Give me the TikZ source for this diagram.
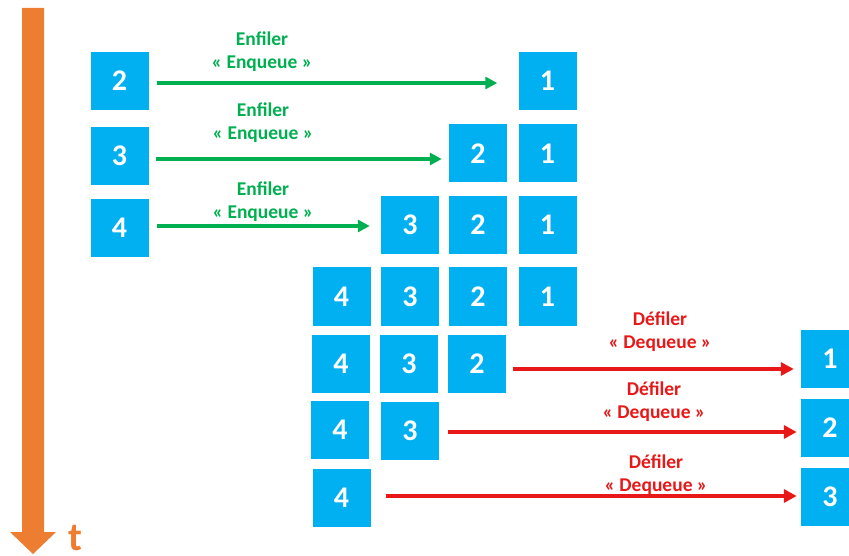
\documentclass[tikz,border=0pt]{standalone}
\usepackage{fontspec}
\setmainfont{Carlito}
\usetikzlibrary{arrows.meta}
\definecolor{boxblue}{HTML}{00B0F0}
\definecolor{enqgreen}{HTML}{00B050}
\definecolor{deqred}{HTML}{E81818}
\definecolor{timeorange}{HTML}{ED7D31}
\tikzset{
  cell/.style={fill=boxblue, minimum width=58pt, minimum height=58pt, inner sep=0pt,
    text=white, font=\bfseries\fontsize{30}{30}\selectfont},
  enq/.style={draw=enqgreen, line width=4pt,
    -{Triangle[length=12pt,width=12pt]}},
  deq/.style={draw=deqred, line width=4.5pt,
    -{Triangle[length=13pt,width=13pt]}},
  oplabel/.style={align=center, inner sep=0pt, font=\bfseries\fontsize{19.5}{23}\selectfont},
}
\begin{document}
\begin{tikzpicture}[x=1pt, y=-1pt]
\useasboundingbox (0,0) rectangle (849,556);
\clip (0,0) rectangle (849,556);

% time axis
\fill[timeorange] (22,8) -- (44,8) -- (44,532) -- (56,532) -- (33,554) -- (10,532) -- (22,532) -- cycle;
\node[anchor=base west, text=timeorange, font=\bfseries\fontsize{40}{40}\selectfont, inner sep=0pt] (t) at (68,550) {t};

% enqueue steps
\node[cell] (e1) at (119.5,81) {2};
\node[cell] (q11) at (547.5,81) {1};
\draw[enq] ([yshift=-2pt]e1.east) -- ([yshift=-2pt]e1.east -| q11.west) [shorten <=8pt, shorten >=21pt];
\node[oplabel, text=enqgreen] (l1) at (262,52) {Enfiler\\« Enqueue »};

\node[cell] (e2) at (119.5,156) {3};
\node[cell] (q22) at (478,153.5) {2};
\node[cell] (q21) at (547.5,153.5) {1};
\draw[enq] ([yshift=-3pt]e2.east) -- ([yshift=-3pt]e2.east -| q22.west) [shorten <=7pt, shorten >=7pt];
\node[oplabel, text=enqgreen] (l2) at (263,122.5) {Enfiler\\« Enqueue »};

\node[cell] (e3) at (119.5,228) {4};
\node[cell] (q33) at (410,225) {3};
\node[cell] (q32) at (478,225) {2};
\node[cell] (q31) at (547.5,225) {1};
\draw[enq] ([yshift=2pt]e3.east) -- ([yshift=2pt]e3.east -| q33.west) [shorten <=8pt, shorten >=11pt];
\node[oplabel, text=enqgreen] (l3) at (263,201.5) {Enfiler\\« Enqueue »};

% full queue
\node[cell] (f4) at (341.5,296.5) {4};
\node[cell] (f3) at (410,296.5) {3};
\node[cell] (f2) at (478,296.5) {2};
\node[cell] (f1) at (547.5,296.5) {1};

% dequeue steps
\node[cell] (d14) at (341,364) {4};
\node[cell] (d13) at (409,364) {3};
\node[cell] (d12) at (477,364) {2};
\node[cell] (o1) at (830,359) {1};
\draw[deq] ([yshift=-5pt]d12.east) -- ([yshift=-5pt]d12.east -| o1.west) [shorten <=7pt, shorten >=7pt];
\node[oplabel, text=deqred] (m1) at (660,331.5) {Défiler\\« Dequeue »};

\node[cell] (d24) at (340,430) {4};
\node[cell] (d23) at (410,431) {3};
\node[cell] (o2) at (830,428) {2};
\draw[deq] ([yshift=-1pt]d23.east) -- ([yshift=-1pt]d23.east -| o2.west) [shorten <=9pt, shorten >=4pt];
\node[oplabel, text=deqred] (m2) at (654,401.5) {Défiler\\« Dequeue »};

\node[cell] (d34) at (341.5,498) {4};
\node[cell] (o3) at (830,497) {3};
\draw[deq] ([yshift=2pt]d34.east) -- ([yshift=2pt]d34.east -| o3.west) [shorten <=15pt, shorten >=4pt];
\node[oplabel, text=deqred] (m3) at (656,475) {Défiler\\« Dequeue »};
\end{tikzpicture}
\end{document}
